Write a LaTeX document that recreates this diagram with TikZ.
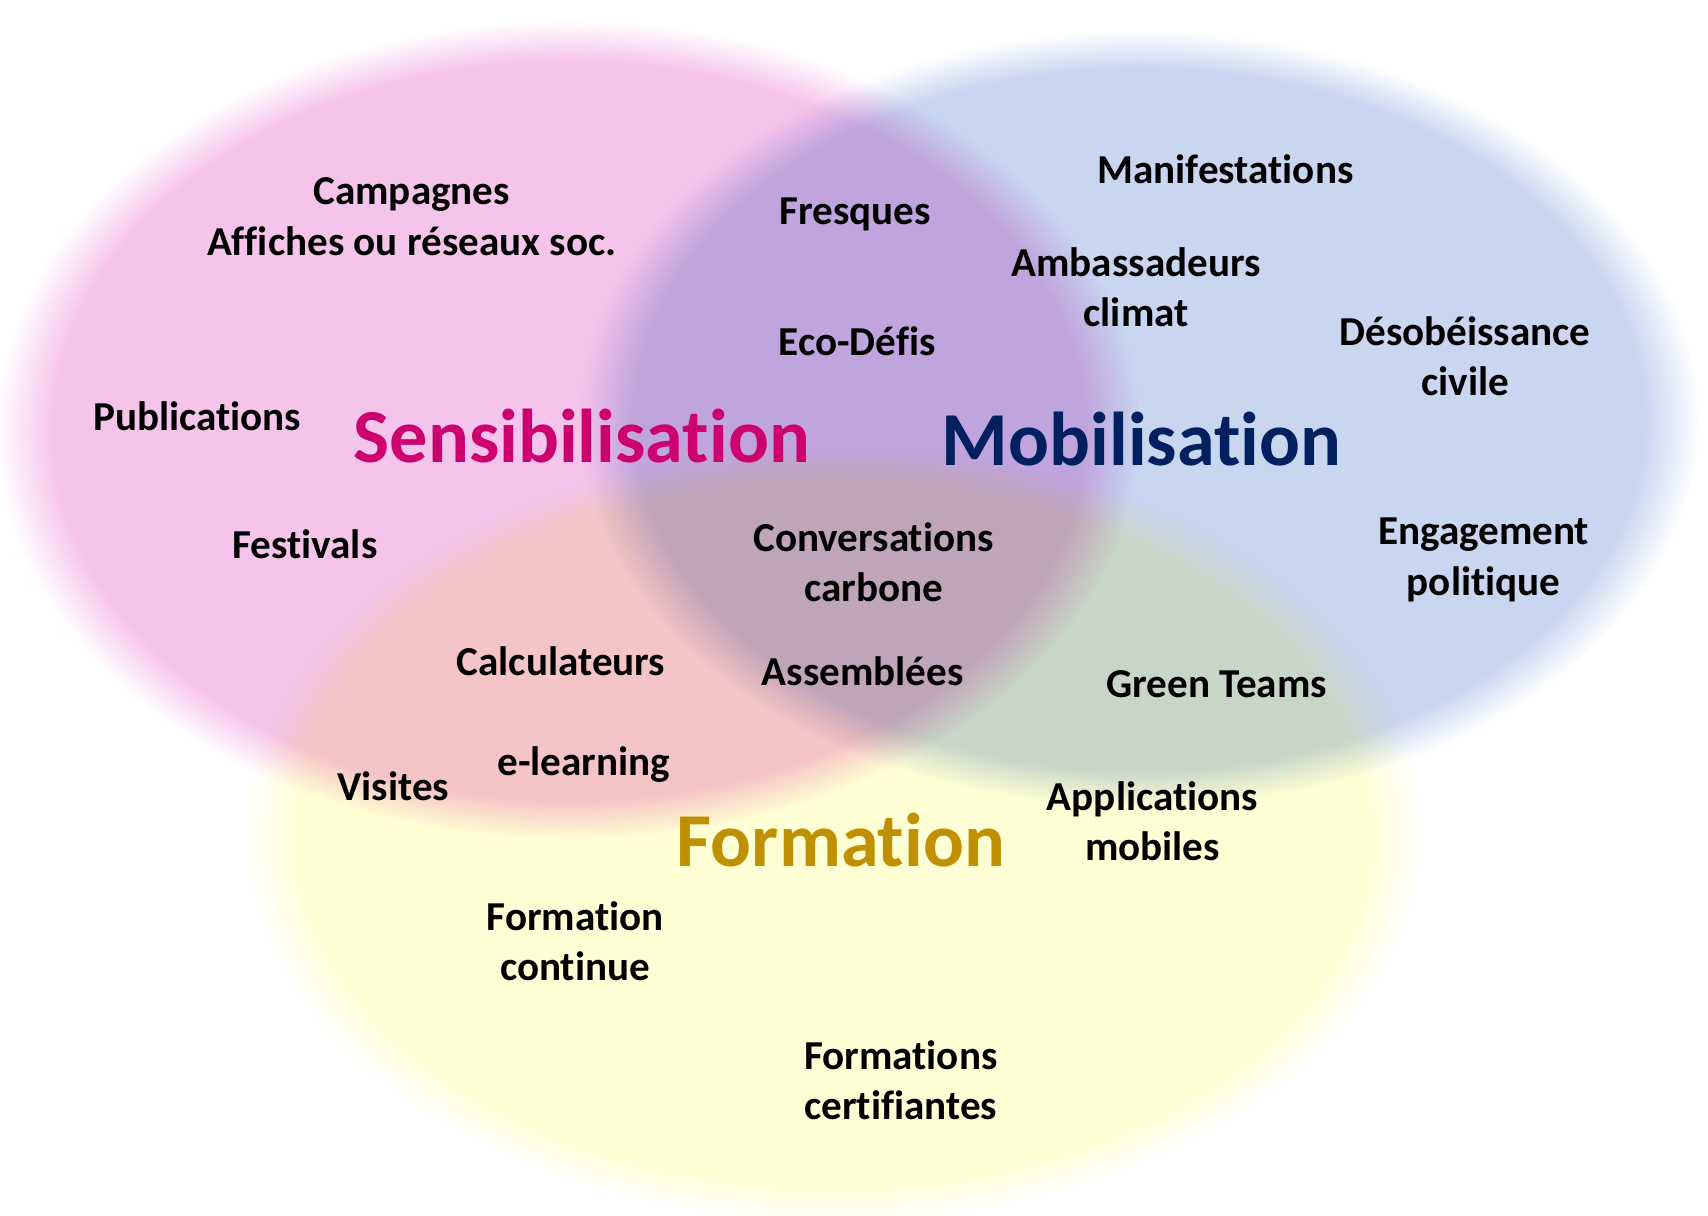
\documentclass[tikz,border=0pt]{standalone}
\usepackage{fontspec}
\setmainfont[Ligatures={NoCommon}]{Carlito}
\usepackage{tikz}
\usetikzlibrary{fadings}
\definecolor{sensipink}{RGB}{245,196,235}
\definecolor{mobiblue}{RGB}{200,214,240}
\definecolor{formyellow}{RGB}{255,255,213}
\definecolor{sensitext}{RGB}{204,0,110}
\definecolor{mobitext}{RGB}{0,32,96}
\definecolor{formtext}{RGB}{191,144,0}

\begin{document}
\begin{tikzpicture}[x=0.010893cm, y=-0.010893cm,
    blob/.style={path fading=circle with fuzzy edge 10 percent},
    item/.style={font=\fontsize{11.7}{14.3}\selectfont\bfseries, align=center, inner sep=0pt},
    title/.style={font=\fontsize{21.7}{26}\selectfont\bfseries, inner sep=0pt}]
    \useasboundingbox (0,0) rectangle (1568,1116);

    % Blurred circles
    \begin{scope}[blend group=multiply]
        \fill[sensipink, blob] (522,395) ellipse [x radius=524, y radius=375];
        \fill[mobiblue, blob] (1046,385) ellipse [x radius=513, y radius=356];
        \fill[formyellow, blob] (765,765) ellipse [x radius=541, y radius=356];
    \end{scope}

    % Titles
    \node[title, text=sensitext] (sensi) at (534,400) {Sensibilisation};
    \node[title, text=mobitext] (mobi) at (1048,403) {Mobilisation};
    \node[title, text=formtext] (forma) at (772,771) {Formation};

    % Sensibilisation
    \node[item] (campagnes) at (378,199) {Campagnes\\Affiches ou réseaux soc.};
    \node[item] (publi) at (181,382) {Publications};
    \node[item] (festivals) at (280,500) {Festivals};

    % Mobilisation
    \node[item] (manif) at (1125,155) {Manifestations};
    \node[item] (ambass) at (1043,264) {Ambassadeurs\\climat};
    \node[item] (desob) at (1345,327) {Désobéissance\\civile};
    \node[item] (engag) at (1362,514) {Engagement\\politique};

    % Sensibilisation + Mobilisation
    \node[item] (fresques) at (785,197) {Fresques};
    \node[item] (ecodefis) at (787,313) {Eco-Défis};

    % Centre
    \node[item] (conv) at (802,516) {Conversations\\carbone};
    \node[item] (assemb) at (792,616) {Assemblées};

    % Sensibilisation + Formation
    \node[item] (calc) at (515,607) {Calculateurs};
    \node[item] (elearn) at (536,702) {e-learning};
    \node[item] (visites) at (361,722) {Visites};

    % Mobilisation + Formation
    \node[item] (green) at (1117,628) {Green Teams};
    \node[item] (appli) at (1058,754) {Applications\\mobiles};

    % Formation
    \node[item] (formcont) at (528,864) {Formation\\continue};
    \node[item] (formcert) at (827,992) {Formations\\certifiantes};
\end{tikzpicture}
\end{document}
